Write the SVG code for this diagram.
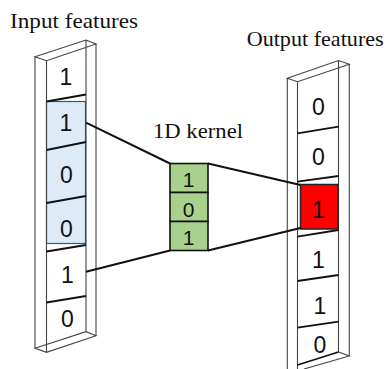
<svg xmlns="http://www.w3.org/2000/svg" width="390" height="369" viewBox="0 0 390 369">
<style>
.title{font-family:"Liberation Serif","Times New Roman",serif;font-size:22px;fill:#111}
.dig{font-family:"Liberation Sans",Arial,sans-serif;font-size:23px;fill:#111;text-anchor:middle}
.kdig{font-family:"Liberation Sans",Arial,sans-serif;font-size:21px;fill:#111;text-anchor:middle}
.frame{fill:none;stroke:#444;stroke-width:1.1}
.sep{fill:none;stroke:#111;stroke-width:1.8}
.conn{fill:none;stroke:#111;stroke-width:2}
</style>
<rect width="390" height="369" fill="#fff"/>
<g id="input">
<rect x="46.5" y="101.5" width="39" height="142" fill="#DEEBF7" stroke="#2F5597" stroke-width="1.2"/>
<path class="frame" d="M35,56.7 L86,40 L96,44 L46.5,60.7 Z M35,56.7 V348.3 M46.5,60.7 V352.3 M86,40 V331.7 M96,44 V335.7 M35,348.3 L46.5,352.3 L96,335.7 L86,331.7 Z"/>
<path class="sep" d="M46.5,101.5 L86,94.5 M46.5,150 L86,142 M46.5,203 L86,196 M46.5,251.5 L86,245 M46.5,302.5 L86,296"/>
<text class="dig" x="66" y="85.2">1</text>
<text class="dig" x="66" y="131">1</text>
<text class="dig" x="66.5" y="183.2">0</text>
<text class="dig" x="66.5" y="236.5">0</text>
<text class="dig" x="67.5" y="283.2">1</text>
<text class="dig" x="67.5" y="326.5">0</text>
<text class="title" x="10" y="28" textLength="128" lengthAdjust="spacingAndGlyphs">Input features</text>
</g>
<g id="kernel">
<rect x="170" y="163.5" width="38" height="29" fill="#A9D18E" stroke="#111" stroke-width="1.6"/>
<rect x="170" y="192.5" width="38" height="29" fill="#A9D18E" stroke="#111" stroke-width="1.6"/>
<rect x="170" y="221.5" width="38" height="29" fill="#A9D18E" stroke="#111" stroke-width="1.6"/>
<text class="kdig" x="188.5" y="187">1</text>
<text class="kdig" x="188.5" y="216.8">0</text>
<text class="kdig" x="188.5" y="244.8">1</text>
<text class="title" x="153" y="138" textLength="90" lengthAdjust="spacingAndGlyphs">1D kernel</text>
</g>
<g id="output">
<path class="frame" d="M287.3,78.3 L338.5,60.5 L349.3,64.3 L297.5,81.7 Z M287.3,78.3 V369 M297.5,81.7 V369 M338.5,60.5 V352 M349.3,64.3 V356 M338.5,352 L349.3,356 L304,369"/>
<path class="sep" d="M297.5,133.3 L338.5,126.7 M297.5,181.7 L338.5,176 M297.5,236.7 L338.5,230 M297.5,281 L338.5,275 M297.5,327.7 L338.5,321.7 M297.5,365 L338.5,352"/>
<rect x="300.5" y="184.5" width="37.5" height="44.5" fill="#FF0000" stroke="#222" stroke-width="1.5"/>
<text class="dig" x="318.5" y="115">0</text>
<text class="dig" x="318.5" y="165">0</text>
<text class="dig" x="318.5" y="217.5">1</text>
<text class="dig" x="318.5" y="268.2">1</text>
<text class="dig" x="320" y="314.2">1</text>
<text class="dig" x="320" y="353.2">0</text>
<text class="title" x="246.7" y="45.5" textLength="137" lengthAdjust="spacingAndGlyphs">Output features</text>
</g>
<g id="connectors">
<path class="conn" d="M86,122.7 L170,163.5"/>
<path class="conn" d="M86,271.7 L170,250.5"/>
<path class="conn" d="M208,163.5 L300.5,185"/>
<path class="conn" d="M208,250.5 L300.5,228"/>
</g>
</svg>
